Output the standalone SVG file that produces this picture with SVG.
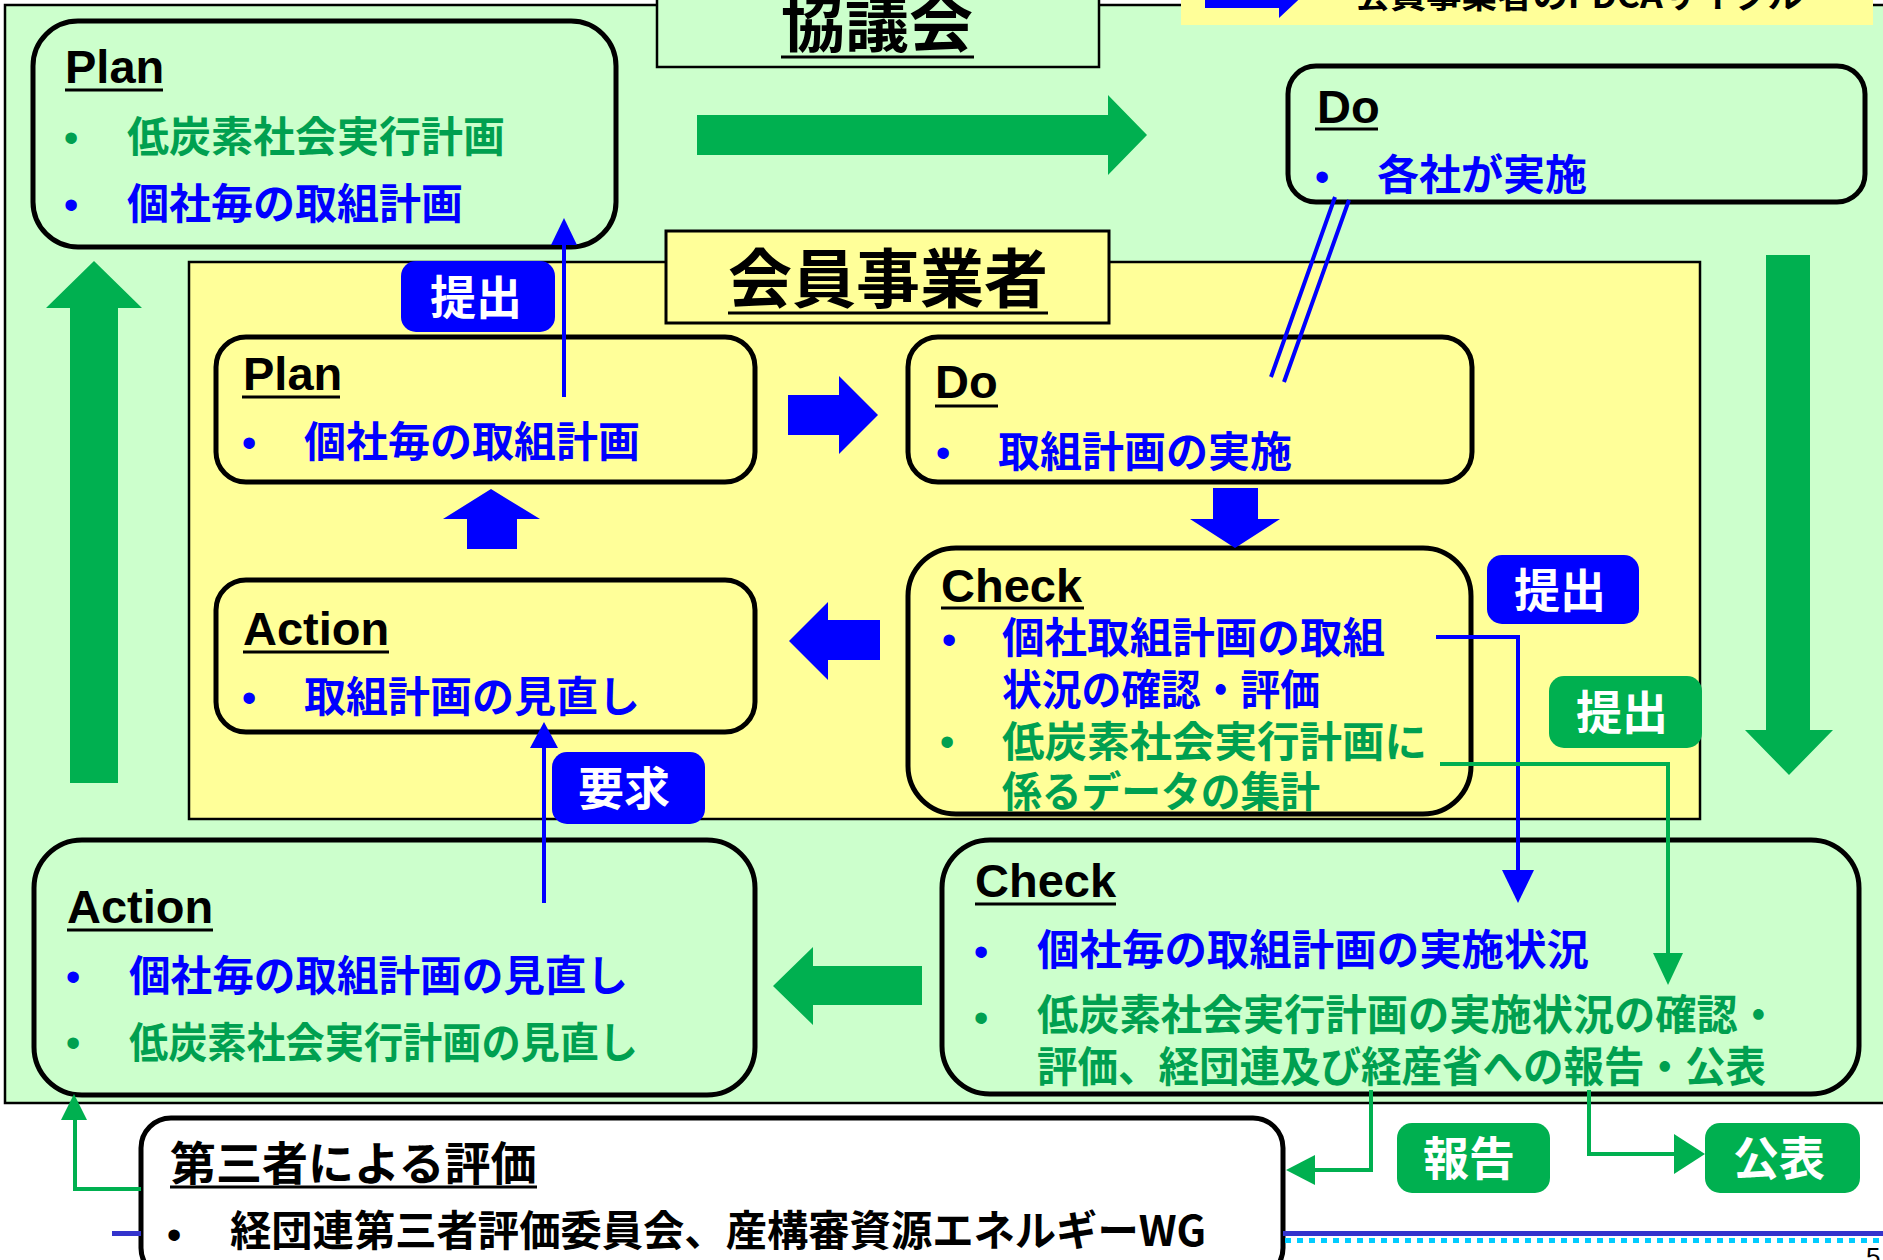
<svg xmlns="http://www.w3.org/2000/svg" width="1883" height="1260" viewBox="0 0 1883 1260">
<style>
.box{stroke:#000;stroke-width:5}
.g{fill:#CCFFCC}.y{fill:#FFFF99}.w{fill:#FFFFFF}
.hd{font-family:"Liberation Sans",Arial,sans-serif;font-weight:bold;font-size:47px;fill:#000}
.jp{font-family:"Noto Sans CJK JP","Noto Sans CJK SC",sans-serif;font-weight:bold;font-size:42px}
.bu{font-family:"Liberation Sans",Arial,sans-serif;font-size:42px;text-anchor:middle}
.tb{fill:#0000FF}.tg{fill:#00A050}.tk{fill:#000}
.ul{stroke:#000;stroke-width:3}
.ga{fill:#00B050}.ba{fill:#0000FF}
.gl{fill:none;stroke:#00B050;stroke-width:4}
.bl{fill:none;stroke:#0000FF;stroke-width:4}
.lbl{font-family:"Noto Sans CJK JP",sans-serif;font-weight:bold;font-size:46px;fill:#fff;text-anchor:middle}
.ttl{font-family:"Noto Sans CJK JP",sans-serif;font-weight:bold;font-size:64px;fill:#000;text-anchor:middle}
</style>
<rect x="0" y="0" width="1883" height="1260" fill="#FFFFFF"/>
<g id="council-panel">
<rect x="5" y="5" width="1900" height="1098" fill="#CCFFCC" stroke="#000" stroke-width="2.5"/>
</g>
<g id="members-panel">
<rect x="189" y="262" width="1511" height="557" fill="#FFFF99" stroke="#000" stroke-width="2.5"/>
</g>
<g id="council-title">
<rect x="657" y="-5" width="442" height="72" fill="#CCFFCC" stroke="#000" stroke-width="2.5"/>
<text class="ttl" x="877" y="46">協議会</text>
<line class="ul" x1="781" y1="57" x2="974" y2="57"/>
</g>
<g id="members-title">
<rect x="666" y="231" width="443" height="92" fill="#FFFF99" stroke="#000" stroke-width="3"/>
<text class="ttl" x="888" y="302">会員事業者</text>
<line class="ul" x1="728" y1="313" x2="1048" y2="313"/>
</g>
<g id="legend">
<rect x="1181" y="-2" width="692" height="27" fill="#FFFF99"/>
<polygon class="ba" points="1205,-20 1279,-20 1279,-40 1310,-11 1279,18 1279,8 1205,8"/>
<text x="1355" y="8" font-family="Noto Sans CJK JP,sans-serif" font-weight="bold" font-size="34" fill="#000" textLength="448" lengthAdjust="spacingAndGlyphs">会員事業者のPDCAサイクル</text>
</g>

<g id="council-plan">
<rect class="box g" x="33" y="21" width="583" height="226" rx="45"/>
<text class="hd" x="65" y="83">Plan</text>
<line class="ul" x1="65" y1="90" x2="163" y2="90"/>
<text class="bu tg" x="71" y="152">•</text>
<text class="jp tg" x="127" y="152">低炭素社会実行計画</text>
<text class="bu tb" x="71" y="219">•</text>
<text class="jp tb" x="127" y="219">個社毎の取組計画</text>
</g>
<g id="council-do">
<rect class="box g" x="1288" y="66" width="577" height="136" rx="28"/>
<text class="hd" x="1317" y="123">Do</text>
<line class="ul" x1="1315" y1="129" x2="1378" y2="129"/>
<text class="bu tb" x="1322" y="191">•</text>
<text class="jp tb" x="1377" y="190">各社が実施</text>
</g>
<g id="council-check">
<rect class="box g" x="942" y="840" width="917" height="254" rx="48"/>
<text class="hd" x="975" y="897">Check</text>
<line class="ul" x1="975" y1="904" x2="1116" y2="904"/>
<text class="bu tb" x="981" y="966">•</text>
<text class="jp tb" x="1037" y="965" textLength="552" lengthAdjust="spacingAndGlyphs">個社毎の取組計画の実施状況</text>
<text class="bu tg" x="981" y="1032">•</text>
<text class="jp tg" x="1037" y="1030" textLength="742" lengthAdjust="spacingAndGlyphs">低炭素社会実行計画の実施状況の確認・</text>
<text class="jp tg" x="1037" y="1082" textLength="729" lengthAdjust="spacingAndGlyphs">評価、経団連及び経産省への報告・公表</text>
</g>
<g id="council-action">
<rect class="box g" x="34" y="840" width="721" height="255" rx="48"/>
<text class="hd" x="67" y="923">Action</text>
<line class="ul" x1="67" y1="930" x2="213" y2="930"/>
<text class="bu tb" x="73" y="991">•</text>
<text class="jp tb" x="129" y="991" textLength="499" lengthAdjust="spacingAndGlyphs">個社毎の取組計画の見直し</text>
<text class="bu tg" x="73" y="1057">•</text>
<text class="jp tg" x="129" y="1058" textLength="509" lengthAdjust="spacingAndGlyphs">低炭素社会実行計画の見直し</text>
</g>

<g id="member-plan">
<rect class="box y" x="216" y="337" width="539" height="145" rx="30"/>
<text class="hd" x="243" y="390">Plan</text>
<line class="ul" x1="242" y1="397" x2="340" y2="397"/>
<text class="bu tb" x="249" y="457">•</text>
<text class="jp tb" x="304" y="457">個社毎の取組計画</text>
</g>
<g id="member-do">
<rect class="box y" x="908" y="337" width="564" height="145" rx="30"/>
<text class="hd" x="935" y="398">Do</text>
<line class="ul" x1="935" y1="406" x2="998" y2="406"/>
<text class="bu tb" x="943" y="467">•</text>
<text class="jp tb" x="998" y="467">取組計画の実施</text>
</g>
<g id="member-check">
<rect class="box y" x="908" y="548" width="563" height="266" rx="48"/>
<text class="hd" x="941" y="602">Check</text>
<line class="ul" x1="941" y1="608" x2="1084" y2="608"/>
<text class="bu tb" x="949" y="654">•</text>
<text class="jp tb" x="1002" y="653" textLength="383" lengthAdjust="spacingAndGlyphs">個社取組計画の取組</text>
<text class="jp tb" x="1002" y="705" textLength="318" lengthAdjust="spacingAndGlyphs">状況の確認・評価</text>
<text class="bu tg" x="947" y="756">•</text>
<text class="jp tg" x="1002" y="757" textLength="425" lengthAdjust="spacingAndGlyphs">低炭素社会実行計画に</text>
<text class="jp tg" x="1002" y="807" textLength="318" lengthAdjust="spacingAndGlyphs">係るデータの集計</text>
</g>
<g id="member-action">
<rect class="box y" x="216" y="580" width="539" height="152" rx="30"/>
<text class="hd" x="243" y="645">Action</text>
<line class="ul" x1="243" y1="652" x2="389" y2="652"/>
<text class="bu tb" x="249" y="712">•</text>
<text class="jp tb" x="304" y="712">取組計画の見直し</text>
</g>
<g id="third-party">
<rect class="box w" x="141" y="1118" width="1142" height="160" rx="30"/>
<text x="170" y="1180" font-family="Noto Sans CJK JP,sans-serif" font-weight="bold" font-size="46" fill="#000">第三者による評価</text>
<line class="ul" x1="170" y1="1187" x2="537" y2="1187"/>
<text class="bu tk" x="174" y="1249">•</text>
<text class="jp tk" x="230" y="1246" textLength="976" lengthAdjust="spacingAndGlyphs">経団連第三者評価委員会、産構審資源エネルギーWG</text>
</g>

<g id="connectors">
<polygon class="ga" points="697,115 1108,115 1108,95 1147,135 1108,175 1108,155 697,155"/>
<polygon class="ga" points="1766,255 1810,255 1810,730 1833,730 1789,775 1745,730 1766,730"/>
<polygon class="ga" points="70,783 118,783 118,308 142,308 94,261 46,308 70,308"/>
<polygon class="ga" points="922,966 922,1005 813,1005 813,1025 773,986 813,947 813,966"/>
<polygon class="ba" points="788,395 839,395 839,376 878,415 839,454 839,435 788,435"/>
<polygon class="ba" points="1213,488 1258,488 1258,519 1280,519 1235,548 1190,519 1213,519"/>
<polygon class="ba" points="880,620 880,660 828,660 828,680 789,641 828,602 828,620"/>
<polygon class="ba" points="467,549 517,549 517,519 540,519 491,489 443,519 467,519"/>
<path class="bl" d="M564,397 V240"/>
<polygon class="ba" points="551,245 577,245 564,218"/>
<path class="bl" d="M1436,637 H1518 V875"/>
<polygon class="ba" points="1502,870 1534,870 1518,903"/>
<path class="gl" d="M1440,764 H1668 V958"/>
<polygon class="ga" points="1653,953 1683,953 1668,985"/>
<path class="bl" d="M544,903 V745"/>
<polygon class="ba" points="530,748 558,748 544,722"/>
<path class="gl" d="M1371,1090 V1170 H1312"/>
<polygon class="ga" points="1315,1155 1315,1185 1286,1170"/>
<path class="gl" d="M1589,1090 V1154 H1678"/>
<polygon class="ga" points="1674,1134 1674,1174 1705,1154"/>
<path class="gl" d="M141,1189 H75 V1118"/>
<polygon class="ga" points="61,1120 87,1120 74,1094"/>
<path class="bl" stroke-width="5" d="M1335,197 L1271,377 M1349,200 L1284,382"/>
</g>

<g id="label-submit-1">
<rect class="ba" x="401" y="261" width="154" height="71" rx="15"/>
<text class="lbl" x="476" y="314">提出</text>
</g>
<g id="label-submit-2">
<rect class="ba" x="1487" y="555" width="152" height="69" rx="15"/>
<text class="lbl" x="1560" y="607">提出</text>
</g>
<g id="label-submit-3">
<rect class="ga" x="1549" y="676" width="153" height="72" rx="15"/>
<text class="lbl" x="1622" y="729">提出</text>
</g>
<g id="label-request">
<rect class="ba" x="552" y="752" width="153" height="72" rx="15"/>
<text class="lbl" x="624" y="805">要求</text>
</g>
<g id="label-report">
<rect class="ga" x="1397" y="1123" width="153" height="70" rx="15"/>
<text class="lbl" x="1469" y="1175">報告</text>
</g>
<g id="label-publish">
<rect class="ga" x="1705" y="1123" width="155" height="70" rx="15"/>
<text class="lbl" x="1779" y="1175">公表</text>
</g>

<g id="footer">
<rect x="112" y="1231" width="29" height="5" fill="#3333CC"/>
<rect x="1283" y="1231" width="600" height="5" fill="#3333CC"/>
<line x1="1285" y1="1240.5" x2="1883" y2="1240.5" stroke="#00CCFF" stroke-width="5" stroke-dasharray="6,6"/>
<text x="1866" y="1266" font-family="Liberation Sans,Arial,sans-serif" font-size="26" fill="#000">5</text>
</g>
</svg>
